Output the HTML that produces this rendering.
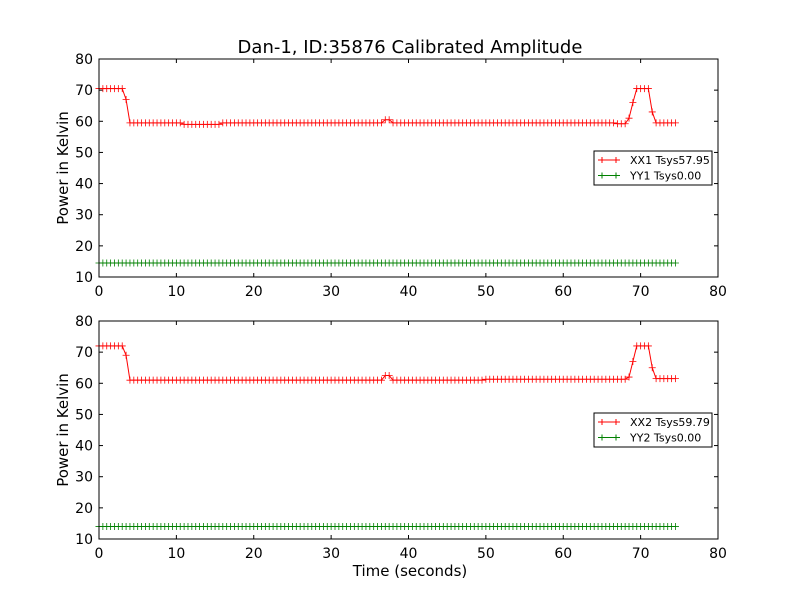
<!DOCTYPE html>
<html><head><meta charset="utf-8"><style>
body{margin:0;background:#fff;}
svg{display:block;font-family:"DejaVu Sans","Liberation Sans",sans-serif;}
</style></head><body>
<svg id="c" width="800" height="600"></svg>
<script>
const xTicks=[0,10,20,30,40,50,60,70,80];
const yTicks=[10,20,30,40,50,60,70,80];
const xx1=[70.5,70.5,70.5,70.5,70.5,70.5,70.5,67,59.5,59.5,
59.5,59.5,59.5,59.5,59.5,59.5,59.5,59.5,59.5,59.5,
59.5,59.5,59,59,59,59,59,59,59,59,
59,59,59.5,59.5,59.5,59.5,59.5,59.5,59.5,59.5,
59.5,59.5,59.5,59.5,59.5,59.5,59.5,59.5,59.5,59.5,
59.5,59.5,59.5,59.5,59.5,59.5,59.5,59.5,59.5,59.5,
59.5,59.5,59.5,59.5,59.5,59.5,59.5,59.5,59.5,59.5,
59.5,59.5,59.5,59.5,60.5,60.5,59.5,59.5,59.5,59.5,
59.5,59.5,59.5,59.5,59.5,59.5,59.5,59.5,59.5,59.5,
59.5,59.5,59.5,59.5,59.5,59.5,59.5,59.5,59.5,59.5,
59.5,59.5,59.5,59.5,59.5,59.5,59.5,59.5,59.5,59.5,
59.5,59.5,59.5,59.5,59.5,59.5,59.5,59.5,59.5,59.5,
59.5,59.5,59.5,59.5,59.5,59.5,59.5,59.5,59.5,59.5,
59.5,59.5,59.5,59.5,59.2,59.2,59.2,61,66,70.5,
70.5,70.5,70.5,63,59.5,59.5,59.5,59.5,59.5,59.5];
const xx2=[72,72,72,72,72,72,72,69,61,61,
61,61,61,61,61,61,61,61,61,61,
61,61,61,61,61,61,61,61,61,61,
61,61,61,61,61,61,61,61,61,61,
61,61,61,61,61,61,61,61,61,61,
61,61,61,61,61,61,61,61,61,61,
61,61,61,61,61,61,61,61,61,61,
61,61,61,61,62.5,62.5,61,61,61,61,
61,61,61,61,61,61,61,61,61,61,
61,61,61,61,61,61,61,61,61,61,
61.3,61.3,61.3,61.3,61.3,61.3,61.3,61.3,61.3,61.3,
61.3,61.3,61.3,61.3,61.3,61.3,61.3,61.3,61.3,61.3,
61.3,61.3,61.3,61.3,61.3,61.3,61.3,61.3,61.3,61.3,
61.3,61.3,61.3,61.3,61.3,61.3,61.3,62,67,72,
72,72,72,65,61.5,61.5,61.5,61.5,61.5,61.5];
const yy1=[14.5,14.5,14.5,14.5,14.5,14.5,14.5,14.5,14.5,14.5,14.5,14.5,14.5,14.5,14.5,14.5,14.5,14.5,14.5,14.5,14.5,14.5,14.5,14.5,14.5,14.5,14.5,14.5,14.5,14.5,
14.5,14.5,14.5,14.5,14.5,14.5,14.5,14.5,14.5,14.5,14.5,14.5,14.5,14.5,14.5,14.5,14.5,14.5,14.5,14.5,14.5,14.5,14.5,14.5,14.5,14.5,14.5,14.5,14.5,14.5,
14.5,14.5,14.5,14.5,14.5,14.5,14.5,14.5,14.5,14.5,14.5,14.5,14.5,14.5,14.5,14.5,14.5,14.5,14.5,14.5,14.5,14.5,14.5,14.5,14.5,14.5,14.5,14.5,14.5,14.5,
14.5,14.5,14.5,14.5,14.5,14.5,14.5,14.5,14.5,14.5,14.5,14.5,14.5,14.5,14.5,14.5,14.5,14.5,14.5,14.5,14.5,14.5,14.5,14.5,14.5,14.5,14.5,14.5,14.5,14.5,
14.5,14.5,14.5,14.5,14.5,14.5,14.5,14.5,14.5,14.5,14.5,14.5,14.5,14.5,14.5,14.5,14.5,14.5,14.5,14.5,14.5,14.5,14.5,14.5,14.5,14.5,14.5,14.5,14.5,14.5];
const yy2=[14,14,14,14,14,14,14,14,14,14,14,14,14,14,14,14,14,14,14,14,14,14,14,14,14,14,14,14,14,14,
14,14,14,14,14,14,14,14,14,14,14,14,14,14,14,14,14,14,14,14,14,14,14,14,14,14,14,14,14,14,
14,14,14,14,14,14,14,14,14,14,14,14,14,14,14,14,14,14,14,14,14,14,14,14,14,14,14,14,14,14,
14,14,14,14,14,14,14,14,14,14,14,14,14,14,14,14,14,14,14,14,14,14,14,14,14,14,14,14,14,14,
14,14,14,14,14,14,14,14,14,14,14,14,14,14,14,14,14,14,14,14,14,14,14,14,14,14,14,14,14,14];
const timeStep=0.5;
const legend1=["XX1 Tsys57.95","YY1 Tsys0.00"];
const legend2=["XX2 Tsys59.79","YY2 Tsys0.00"];

const NS="http://www.w3.org/2000/svg";
const svg=document.getElementById('c');
function mk(tag,attrs,parent){const e=document.createElementNS(NS,tag);for(const k in attrs)e.setAttribute(k,attrs[k]);(parent||svg).appendChild(e);return e;}
function txt(s,attrs,name,parent){const e=mk('text',attrs,parent);e.textContent=s;

return e;}

const L=99,R=718;
const t=mk('text',{x:410,y:53,'text-anchor':'middle','font-size':18});t.textContent="Dan-1, ID:35876 Calibrated Amplitude";



function panel(top,bottom,sA,sB,leg,ly,name,xlabel){
  const g=mk('g',{});
  
  
  const xs=v=>L+(v-0)/(80-0)*(R-L);
  const ys=v=>bottom-(v-10)/(80-10)*(bottom-top);
  mk('rect',{x:L,y:top,width:R-L,height:bottom-top,fill:'#fff',stroke:'none'},g);
  xTicks.forEach(v=>{const x=xs(v);
    mk('line',{x1:x,x2:x,y1:bottom,y2:bottom-4,stroke:'#000'},g);
    mk('line',{x1:x,x2:x,y1:top,y2:top+4,stroke:'#000'},g);
    txt(String(v),{x:x,y:bottom+19,'text-anchor':'middle','font-size':14},'x-tick-label',g);});
  yTicks.forEach(v=>{const y=ys(v);
    mk('line',{x1:L,x2:L+4,y1:y,y2:y,stroke:'#000'},g);
    mk('line',{x1:R,x2:R-4,y1:y,y2:y,stroke:'#000'},g);
    txt(String(v),{x:L-6,y:y+5,'text-anchor':'end','font-size':14},'y-tick-label',g);});
  [[sA,'#ff0000','xx-series'],[sB,'#008000','yy-series']].forEach(([s,c,n])=>{
    const sg=mk('g',{},g);
    
    
    const pts=s.map((v,i)=>xs(i*timeStep).toFixed(2)+','+ys(v).toFixed(2)).join(' ');
    mk('polyline',{points:pts,fill:'none',stroke:c,'stroke-width':1},sg);
    let d='';s.forEach((v,i)=>{const x=xs(i*timeStep),y=ys(v);d+=`M${x-3.5},${y}h7M${x},${y-3.5}v7`;});
    mk('path',{d:d,stroke:c,'stroke-width':0.8,fill:'none'},sg);
  });
  mk('rect',{x:L,y:top,width:R-L,height:bottom-top,fill:'none',stroke:'#000','stroke-width':1},g);
  txt("Power in Kelvin",{x:0,y:0,transform:`translate(68,${(top+bottom)/2}) rotate(-90)`,'text-anchor':'middle','font-size':15},'y-axis-title',g);
  const lg=mk('g',{},g);
  
  
  mk('rect',{x:594,y:ly,width:118,height:34,fill:'#fff',stroke:'#000'},lg);
  [['#ff0000',leg[0]],['#008000',leg[1]]].forEach(([c,s],k)=>{const y=ly+9+k*15.5;
    mk('line',{x1:598,x2:620,y1:y,y2:y,stroke:c},lg);
    mk('path',{d:`M602,${y-3}v6M616,${y-3}v6`,stroke:c},lg);
    txt(s,{x:630,y:y+4,'font-size':11},'legend-entry',lg);});
  if(xlabel) txt(xlabel,{x:410,y:576,'text-anchor':'middle','font-size':15},'x-axis-title',g);
}
panel(59,277,xx1,yy1,legend1,151,'top-panel',null);
panel(321,539,xx2,yy2,legend2,413,'bottom-panel',"Time (seconds)");
</script>
</body></html>
